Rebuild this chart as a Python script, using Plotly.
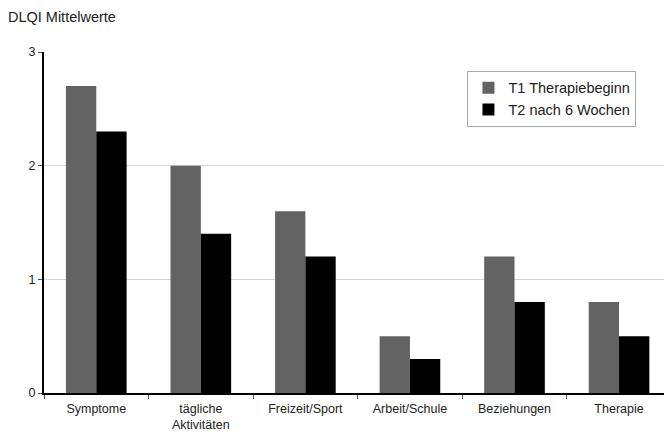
import plotly.graph_objects as go

categories = ["Symptome", "tägliche<br>Aktivitäten", "Freizeit/Sport", "Arbeit/Schule", "Beziehungen", "Therapie"]
t1_values = [2.7, 2.0, 1.6, 0.5, 1.2, 0.8]
t2_values = [2.3, 1.4, 1.2, 0.3, 0.8, 0.5]
series_names = ["T1 Therapiebeginn", "T2 nach 6 Wochen"]
y_ticks = [0, 1, 2, 3]

font = "Liberation Sans, Arial, sans-serif"

fig = go.Figure()
fig.add_trace(go.Bar(x=categories, y=t1_values, name=series_names[0],
                     marker=dict(color="#636363", line=dict(width=0))))
fig.add_trace(go.Bar(x=categories, y=t2_values, name=series_names[1],
                     marker=dict(color="#000000", line=dict(width=0))))

fig.update_layout(
    width=664, height=436,
    margin=dict(l=44, r=0, t=52, b=43),
    paper_bgcolor="white", plot_bgcolor="white",
    barmode="group", bargap=0.42, bargroupgap=0,
    font=dict(family=font, size=12, color="#222"),
    title=dict(text="DLQI Mittelwerte", x=0.012, xanchor="left", y=0.962, yanchor="middle",
               font=dict(family=font, size=14.5, color="#222")),
    legend=dict(x=0.683, y=0.945, xanchor="left", yanchor="top",
                bordercolor="#aaaaaa", borderwidth=1, bgcolor="white",
                font=dict(family=font, size=14.5, color="#222"),
                itemwidth=30, tracegroupgap=0),
    showlegend=True,
)
fig.update_xaxes(
    range=[-0.5, 5.43], showline=True, linecolor="black", linewidth=2,
    ticks="outside", tickson="boundaries", ticklen=4, tickcolor="#555",
    showgrid=False, tickfont=dict(family=font, size=12.5, color="#222"),
    ticklabelstandoff=3,
)
fig.update_yaxes(
    range=[0, 3], tickvals=y_ticks, showline=True, linecolor="black", linewidth=2,
    ticks="outside", ticklen=4, tickcolor="#555",
    showgrid=True, gridcolor="#d4d4d4", gridwidth=1, zeroline=False,
    tickfont=dict(family=font, size=12.5, color="#222"),
)

fig.write_html("out.html")
